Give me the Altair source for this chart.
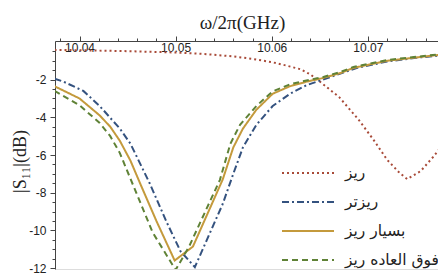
import altair as alt
import pandas as pd

series_names = ["ریز", "ریزتر", "بسیار ریز", "فوق العاده ریز"]

red_f = [10.0374, 10.040, 10.045, 10.050, 10.053, 10.056, 10.058, 10.060, 10.0615, 10.063,
         10.064, 10.065, 10.067, 10.069, 10.0706, 10.072, 10.0733, 10.0741, 10.0755, 10.0768, 10.0782]
red_s = [-0.42, -0.44, -0.49, -0.56, -0.64, -0.77, -0.90, -1.07, -1.25, -1.45,
         -1.72, -2.10, -2.92, -4.10, -5.20, -6.25, -6.95, -7.28, -6.85, -6.10, -5.20]

blue_f = [10.0374, 10.0383, 10.0404, 10.0421, 10.0442, 10.0453, 10.0473, 10.0491, 10.0505, 10.0520,
          10.0549, 10.0560, 10.0570, 10.0584, 10.0601, 10.0619, 10.0636, 10.0653, 10.0670, 10.0690,
          10.0720, 10.0750, 10.0782]
blue_s = [-1.95, -2.10, -2.60, -3.40, -4.60, -5.40, -7.50, -9.60, -11.10, -11.95,
          -8.60, -7.00, -5.60, -4.40, -3.40, -2.75, -2.30, -2.00, -1.70, -1.36,
          -1.04, -0.84, -0.69]

gold_f = [10.0374, 10.0400, 10.0421, 10.0432, 10.0442, 10.0453, 10.0463, 10.0480, 10.0499, 10.0518,
          10.0549, 10.0560, 10.0570, 10.0584, 10.0601, 10.0619, 10.0637, 10.0653, 10.0671, 10.0685,
          10.0720, 10.0782]
gold_s = [-2.35, -3.00, -3.90, -4.50, -5.25, -6.30, -7.50, -9.50, -11.60, -10.86,
          -7.30, -5.60, -4.60, -3.60, -2.75, -2.35, -2.10, -1.92, -1.66, -1.38,
          -1.00, -0.64]

green_f = [10.0374, 10.0400, 10.0421, 10.0432, 10.0442, 10.0459, 10.0476, 10.0500, 10.0514, 10.0546,
           10.0557, 10.0567, 10.0584, 10.0601, 10.0619, 10.0640, 10.0653, 10.0671, 10.0685, 10.0720,
           10.0782]
green_s = [-2.60, -3.36, -4.30, -5.00, -5.90, -8.00, -10.10, -12.10, -10.86, -7.33,
           -5.40, -4.40, -3.40, -2.62, -2.25, -2.00, -1.87, -1.60, -1.33, -0.96,
           -0.61]

x_major = [10.04, 10.05, 10.06, 10.07]
x_minor = [10.038, 10.042, 10.044, 10.046, 10.048, 10.052, 10.054, 10.056, 10.058,
           10.062, 10.064, 10.066, 10.068, 10.072, 10.074, 10.076]
y_major = [-12, -10, -8, -6, -4, -2]
y_minor = [-11.5, -11, -10.5, -9.5, -9, -8.5, -7.5, -7, -6.5, -5.5, -5, -4.5,
           -3.5, -3, -2.5, -1.5, -1, -0.5]

colors = ["#a84a38", "#34527f", "#c49a3c", "#5f8236"]
dashes = [[2, 3], [7, 3, 2, 3], [1, 0], [6, 4]]

rows = []
for name, fs, ss in zip(series_names, [red_f, blue_f, gold_f, green_f], [red_s, blue_s, gold_s, green_s]):
    for i, (a, b) in enumerate(zip(fs, ss)):
        rows.append({"series": name, "f": a, "s11": b, "order": i})
df = pd.DataFrame(rows)

xscale = alt.Scale(domain=[10.03745, 10.0773], nice=False, zero=False)
yscale = alt.Scale(domain=[-12.05, 0.05], nice=False, zero=False)

legend = alt.Legend(
    orient="none", legendX=242, legendY=121, title=None,
    symbolType="M-2.6,0H2.6", symbolSize=400, symbolStrokeWidth=2,
    symbolFillColor="transparent",
    labelFont="DejaVu Sans", labelFontSize=15.5, labelColor="#222",
    labelOffset=26, padding=0, rowPadding=9, labelLimit=200,
)

lines = alt.Chart(df).mark_line(strokeWidth=2, clip=True).encode(
    x=alt.X("f:Q", scale=xscale, axis=alt.Axis(
        orient="top", values=x_major, format=".2f", grid=False,
        title="ω/2π(GHz)", titleFont="Liberation Serif", titleFontSize=19,
        titleFontWeight="normal", titleColor="#222", titleY=-19, titleX=187,
        titleAlign="center", titleBaseline="middle",
        labelFont="Liberation Sans", labelFontSize=12, labelColor="#222",
        labelBaseline="top", labelPadding=-6, tickSize=5, tickColor="#444",
        domainColor="#444", labelFlush=False)),
    y=alt.Y("s11:Q", scale=yscale, axis=alt.Axis(
        orient="left", values=y_major, grid=False, labelExpr="'' + datum.value",
        title="|S₁₁|(dB)", titleFont="Liberation Serif", titleFontSize=18,
        titleFontWeight="normal", titleColor="#222", titleX=-35, titleY=120,
        titleAlign="center", titleBaseline="middle", titleAngle=270,
        labelFont="Liberation Sans", labelFontSize=12, labelColor="#222",
        labelPadding=4, tickSize=5, tickColor="#444", domainColor="#444")),
    color=alt.Color("series:N", sort=series_names,
                    scale=alt.Scale(domain=series_names, range=colors), legend=legend),
    strokeDash=alt.StrokeDash("series:N", sort=series_names,
                              scale=alt.Scale(domain=series_names, range=dashes), legend=legend),
    order="order:Q",
)

minor = alt.Chart(df).mark_point(opacity=0, clip=True).encode(
    x=alt.X("f:Q", scale=xscale, axis=alt.Axis(
        orient="top", values=x_minor, labels=False, tickSize=3, domain=False,
        grid=False, title=None, tickColor="#444")),
    y=alt.Y("s11:Q", scale=yscale, axis=alt.Axis(
        orient="left", values=y_minor, labels=False, tickSize=3, domain=False,
        grid=False, title=None, tickColor="#444")),
)

chart = alt.layer(lines, minor).resolve_axis(x="independent", y="independent").properties(
    width=383, height=228,
    padding={"left": 47, "top": 33, "right": 0, "bottom": 6},
    autosize=alt.AutoSizeParams(type="none"),
).configure_view(strokeWidth=0).configure(background="white")

chart.save("out.html", embed_options={"renderer": "svg", "actions": False})
